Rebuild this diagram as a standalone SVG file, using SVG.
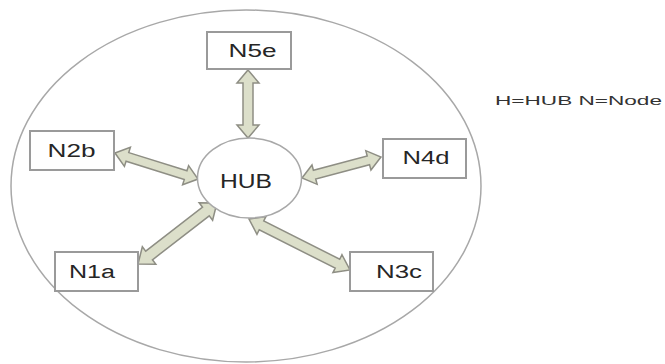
<svg xmlns="http://www.w3.org/2000/svg" width="665" height="364" viewBox="0 0 665 364">
  <style>
    .ring { fill: none; stroke: #a8a8a8; stroke-width: 1.5; }
    .hub { fill: #ffffff; stroke: #a8a8a8; stroke-width: 1.5; }
    .box { fill: #ffffff; stroke: #9a9a9a; stroke-width: 2; }
    .lbl { font-family: "Liberation Sans", Arial, sans-serif; font-size: 18px; fill: #262626; text-anchor: middle; }
    .hubtxt { font-size: 20px; }
    .legend { font-family: "Liberation Sans", Arial, sans-serif; font-size: 13px; fill: #333333; }
    .dart { fill: #dcdfca; stroke: #8e8e84; stroke-width: 1.5; stroke-linejoin: miter; }
  </style>

  <!-- network boundary -->
  <ellipse class="ring" cx="246" cy="186" rx="235" ry="176"/>

  <!-- double-headed links between hub and nodes -->
  <g id="connectors">
    <path class="dart" transform="translate(248,70) rotate(90)" d="M0,0 L13,-11 L13,-5 L55,-5 L55,-11 L68,0 L55,11 L55,5 L13,5 L13,11 Z"/>
    <path class="dart" transform="translate(115,153) rotate(17.4)" d="M0,0 L13,-10 L13,-4.5 L74,-4.5 L74,-10 L87,0 L74,10 L74,4.5 L13,4.5 L13,10 Z"/>
    <path class="dart" transform="translate(302,178) rotate(-14.9)" d="M0,0 L13,-10 L13,-4.5 L68.7,-4.5 L68.7,-10 L81.7,0 L68.7,10 L68.7,4.5 L13,4.5 L13,10 Z"/>
    <path class="dart" transform="translate(138,264) rotate(-37.7)" d="M0,0 L14,-11 L14,-5.5 L85.8,-5.5 L85.8,-11 L99.8,0 L85.8,11 L85.8,5.5 L14,5.5 L14,11 Z"/>
    <path class="dart" transform="translate(249,219) rotate(26.8)" d="M0,0 L14,-10 L14,-5 L99.1,-5 L99.1,-10 L113.1,0 L99.1,10 L99.1,5 L14,5 L14,10 Z"/>
  </g>

  <g id="hub">
    <ellipse class="hub" cx="249.5" cy="178" rx="52" ry="40"/>
    <text class="lbl hubtxt" x="246" y="188" textLength="52" lengthAdjust="spacingAndGlyphs">HUB</text>
  </g>

  <g id="node-n5e">
    <rect class="box" x="207" y="32" width="84" height="37"/>
    <text class="lbl" x="252.5" y="57" textLength="48" lengthAdjust="spacingAndGlyphs">N5e</text>
  </g>

  <g id="node-n2b">
    <rect class="box" x="30" y="131" width="84" height="39"/>
    <text class="lbl" x="71.5" y="157" textLength="48" lengthAdjust="spacingAndGlyphs">N2b</text>
  </g>

  <g id="node-n4d">
    <rect class="box" x="383" y="139" width="83" height="39"/>
    <text class="lbl" x="426" y="164" textLength="47" lengthAdjust="spacingAndGlyphs">N4d</text>
  </g>

  <g id="node-n1a">
    <rect class="box" x="55" y="252" width="83" height="39"/>
    <text class="lbl" x="92" y="278" textLength="46" lengthAdjust="spacingAndGlyphs">N1a</text>
  </g>

  <g id="node-n3c">
    <rect class="box" x="350" y="252" width="83" height="39"/>
    <text class="lbl" x="399" y="278" textLength="46" lengthAdjust="spacingAndGlyphs">N3c</text>
  </g>

  <g id="legend">
    <text class="legend" x="495" y="105" textLength="167" lengthAdjust="spacingAndGlyphs">H=HUB  N=Node</text>
  </g>
</svg>
